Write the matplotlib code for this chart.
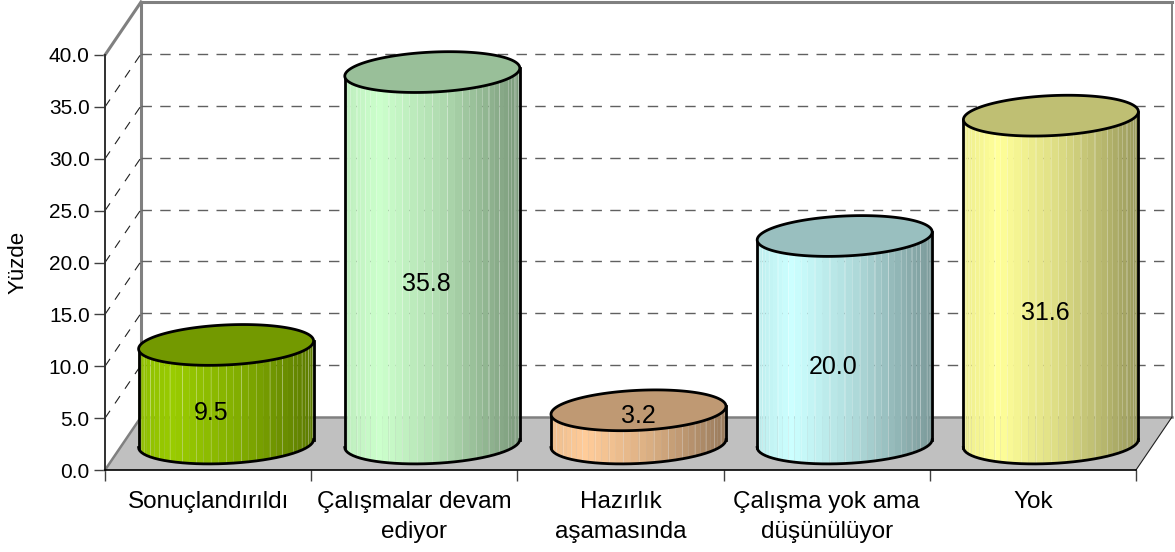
import matplotlib
matplotlib.use("Agg")
import matplotlib.pyplot as plt
import numpy as np

labels = ["Sonuçlandırıldı", "Çalışmalar devam\nediyor", "Hazırlık\naşamasında",
          "Çalışma yok ama\ndüşünülüyor", "Yok"]
values = [9.5, 35.8, 3.2, 20.0, 31.6]
side_colors = ["#99CC00", "#CCFFCC", "#FFCC99", "#CCFFFF", "#FFFF99"]
top_colors = ["#739900", "#99BF99", "#BF9973", "#99BFBF", "#BFBF73"]
y_ticks = [0, 5, 10, 15, 20, 25, 30, 35, 40]

# label nudges in pixels, the original labels are not quite centred
label_dx = [-15, -6, 0, -12, -6]
label_dy = [8, 0, 37, -1, -7]

W, H = 1175, 552
LEFT, RIGHT, TOP, BOTTOM = 105, 1136, 55, 470
px_x = (RIGHT - LEFT) / 5.0
px_y = (BOTTOM - TOP) / 40.0
DX = 36 / px_x
DY = 53 / px_y
GRAY = "#808080"

plt.rcParams["font.family"] = ["Liberation Sans", "DejaVu Sans"]
fig = plt.figure(figsize=(W / 100, H / 100), dpi=100)
ax = fig.add_axes([LEFT / W, 1 - BOTTOM / H, (RIGHT - LEFT) / W, (BOTTOM - TOP) / H])
ax.set_xlim(0, 5)
ax.set_ylim(0, 40)
ax.patch.set_visible(False)


def extra(xs, ys, **kw):
    ax.plot(xs, ys, clip_on=False, **kw)


# floor and walls
ax.fill([0, DX, 5 + DX, 5], [0, DY, DY, 0], color="#C0C0C0", lw=0, clip_on=False, zorder=1)
extra([DX, 5 + DX], [DY, DY], color=GRAY, lw=1.8, zorder=2)
extra([0, DX], [0, DY], color=GRAY, lw=1.8, zorder=2)
extra([DX, DX], [DY, 40 + DY], color=GRAY, lw=2.2, zorder=2)
extra([0, DX], [40, 40 + DY], color=GRAY, lw=2.2, zorder=2)
extra([DX, 5 + DX], [40 + DY, 40 + DY], color=GRAY, lw=2.2, zorder=2)
extra([5 + DX, 5 + DX], [DY, 40 + DY], color=GRAY, lw=1.4, zorder=2)
extra([5, 5 + DX], [0, DY], color="#202020", lw=0.8, zorder=2)

for v in y_ticks[1:-1]:
    extra([DX, 5 + DX], [v + DY, v + DY], color="#606060", lw=1.0, ls=(0, (7.5, 6)), zorder=2)
    extra([0, DX], [v, v + DY], color="#202020", lw=0.8, ls=(0, (8, 8)), zorder=2)

# cylinders
a = 87.5 / px_x
b = 20 / px_y
s = 4 / px_y
t = np.linspace(0, 2 * np.pi, 181)
front = np.linspace(np.pi, 2 * np.pi, 37)
for i in range(5):
    cx = i + 0.5 + DX / 2
    base = DY / 2
    top = base + values[i]
    z = 5 + i
    rgb = np.array(matplotlib.colors.to_rgb(side_colors[i]))
    # strips across the front of the cylinder
    for j in range(len(front) - 1):
        tt = np.linspace(front[j], front[j + 1], 4)
        xs = cx + a * np.cos(tt)
        off = b * np.sin(tt) + s * np.cos(tt)
        u = (xs.mean() - (cx - a)) / (2 * a)
        shade = np.interp(u, [0, 0.2, 0.55, 1], [0.93, 1.0, 0.86, 0.6])
        col = rgb * shade
        ax.fill(np.r_[xs, xs[::-1]], np.r_[base + off, (top + off)[::-1]], color=col,
                lw=0, clip_on=False, zorder=z)
        # thin light seams between some of the strips
        if j % 2 == 1:
            extra([xs[-1], xs[-1]], [base + off[-1], top + off[-1]], color="white",
                  lw=0.6, alpha=0.25, zorder=z + 0.1)
    # outline
    xs = cx + a * np.cos(front)
    off = b * np.sin(front) + s * np.cos(front)
    extra(xs, base + off, color="black", lw=2.0, zorder=z + 0.5)
    extra([cx - a, cx - a], [base - s, top - s], color="black", lw=2.0, zorder=z + 0.5)
    extra([cx + a, cx + a], [base + s, top + s], color="black", lw=2.0, zorder=z + 0.5)
    ex = cx + a * np.cos(t)
    ey = top + b * np.sin(t) + s * np.cos(t)
    ax.fill(ex, ey, facecolor=top_colors[i], edgecolor="black", lw=2.0, clip_on=False,
            zorder=z + 0.6)
    ax.annotate("%.1f" % values[i], (i + 0.5 + DX / 2, values[i] / 2.0),
                xytext=(label_dx[i] * 0.72, label_dy[i] * 0.72), textcoords="offset points",
                ha="center", va="center", fontsize=18, color="black", zorder=20,
                annotation_clip=False)

# axes
for name in ["top", "right"]:
    ax.spines[name].set_visible(False)
ax.spines["left"].set_color("#303030")
ax.spines["left"].set_linewidth(1.4)
ax.spines["bottom"].set_color("black")
ax.spines["bottom"].set_linewidth(1.2)
ax.spines["left"].set_zorder(3)
ax.spines["bottom"].set_zorder(3)
ax.set_yticks(y_ticks)
ax.set_yticklabels(["%.1f" % v for v in y_ticks], fontsize=15)
ax.set_xticks(range(6))
ax.set_xticklabels([])
ax.set_xticks(np.arange(5) + 0.5, labels=labels, minor=True, fontsize=17.5)
for lab in ax.get_xticklabels(minor=True):
    lab.set_linespacing(1.5)
ax.tick_params(axis="y", length=8, width=1.0, color="#404040", pad=3)
ax.tick_params(axis="x", which="major", length=8, width=1.0, color="#404040")
ax.tick_params(axis="x", which="minor", length=0, pad=15)
ax.set_ylabel("Yüzde", fontsize=16, va="center")
ax.yaxis.set_label_coords((18 - LEFT) / (RIGHT - LEFT), 0.5)

fig.savefig("out.png", dpi=100)
